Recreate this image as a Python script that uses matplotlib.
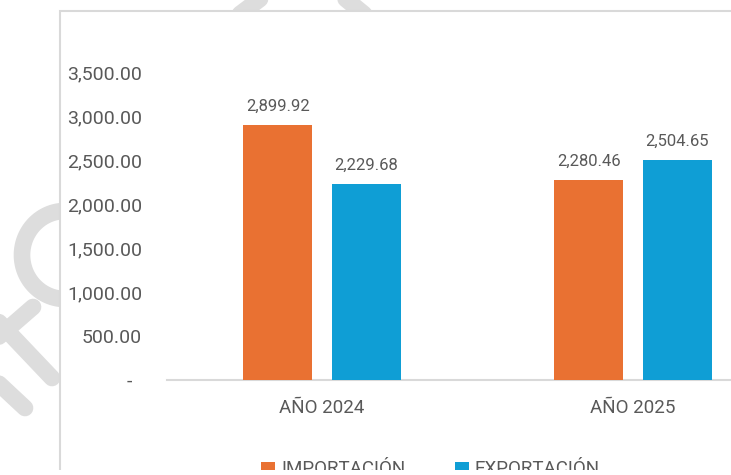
import matplotlib
matplotlib.use('agg')
import matplotlib.pyplot as plt
import numpy as np
from matplotlib.patches import Rectangle

plt.rcParams['font.family'] = ['Roboto', 'DejaVu Sans']

# data
categorias = ['AÑO 2024', 'AÑO 2025']
series = ['IMPORTACIÓN', 'EXPORTACIÓN']
importacion = [2899.92, 2280.46]
exportacion = [2229.68, 2504.65]
yticks = [0, 500, 1000, 1500, 2000, 2500, 3000, 3500]
ytick_labels = ['-  ', '500.00', '1,000.00', '1,500.00', '2,000.00',
                '2,500.00', '3,000.00', '3,500.00']

colores = ['#E97132', '#0F9ED5']
gris_txt = '#595959'
gris_linea = '#d9d9d9'
gris_marca = '#dddddd'

fig = plt.figure(figsize=(7.31, 4.75), dpi=100)

# background layer in pixel coords (watermark + chart frame + legend)
bg = fig.add_axes([0, 0, 1, 1])
bg.set_xlim(0, 731)
bg.set_ylim(475, 0)
bg.axis('off')

lw_m = 12
kw = dict(color=gris_marca, lw=lw_m, solid_capstyle='round', zorder=0)
bg.plot([240, 264], [14, -4], **kw)
bg.plot([364, 342], [14, -4], **kw)
t = np.linspace(np.radians(80), np.radians(280), 60)
bg.plot(65 + 43 * np.cos(t), 255 - 44 * np.sin(t), **kw)
bg.plot([33, -5], [307, 340], **kw)
bg.plot([-5, 52], [318, 378], **kw)
bg.plot([-5, 25], [380, 408], **kw)

bg.add_patch(Rectangle((59.5, 11), 800, 600, facecolor='white',
                       edgecolor=gris_linea, lw=1.5, zorder=1))

# legend (bottom, cut by the crop)
leg_x = [261, 455]
for i, nombre in enumerate(series):
    bg.add_patch(Rectangle((leg_x[i], 462), 14, 14, facecolor=colores[i],
                           edgecolor='none', zorder=2))
    bg.text(leg_x[i] + 20, 474, nombre, fontsize=13.5, color=gris_txt,
            va='baseline', ha='left', zorder=2)

# crop strip at the very bottom
bg.add_patch(Rectangle((0, 470), 731, 10, facecolor='white',
                       edgecolor='none', zorder=10))

# main chart
ax = fig.add_axes([166.5 / 731, 95 / 475, 622 / 731, 351.6 / 475])
ax.set_zorder(2)
ax.patch.set_alpha(0)

x = np.arange(len(categorias)) + 0.5
w = 0.222
off = 0.1425
b1 = ax.bar(x - off, importacion, w, color=colores[0], zorder=3)
b2 = ax.bar(x + off, exportacion, w, color=colores[1], zorder=3)
for b in (b1, b2):
    ax.bar_label(b, labels=[f'{v:,.2f}' for v in b.datavalues],
                 padding=8, fontsize=12, color=gris_txt)

ax.set_xlim(0, 2)
ax.set_ylim(0, 4000)
ax.set_yticks(yticks)
ax.set_yticklabels(ytick_labels)
ax.set_xticks(x)
ax.set_xticklabels(categorias)
ax.tick_params(axis='y', length=0, pad=17.5, labelsize=14, labelcolor=gris_txt)
ax.tick_params(axis='x', length=0, pad=13.5, labelsize=13.5, labelcolor=gris_txt)

for s in ['top', 'right', 'left']:
    ax.spines[s].set_visible(False)
ax.spines['bottom'].set_color(gris_linea)
ax.spines['bottom'].set_linewidth(1.5)

fig.savefig('out.png', dpi=100)
